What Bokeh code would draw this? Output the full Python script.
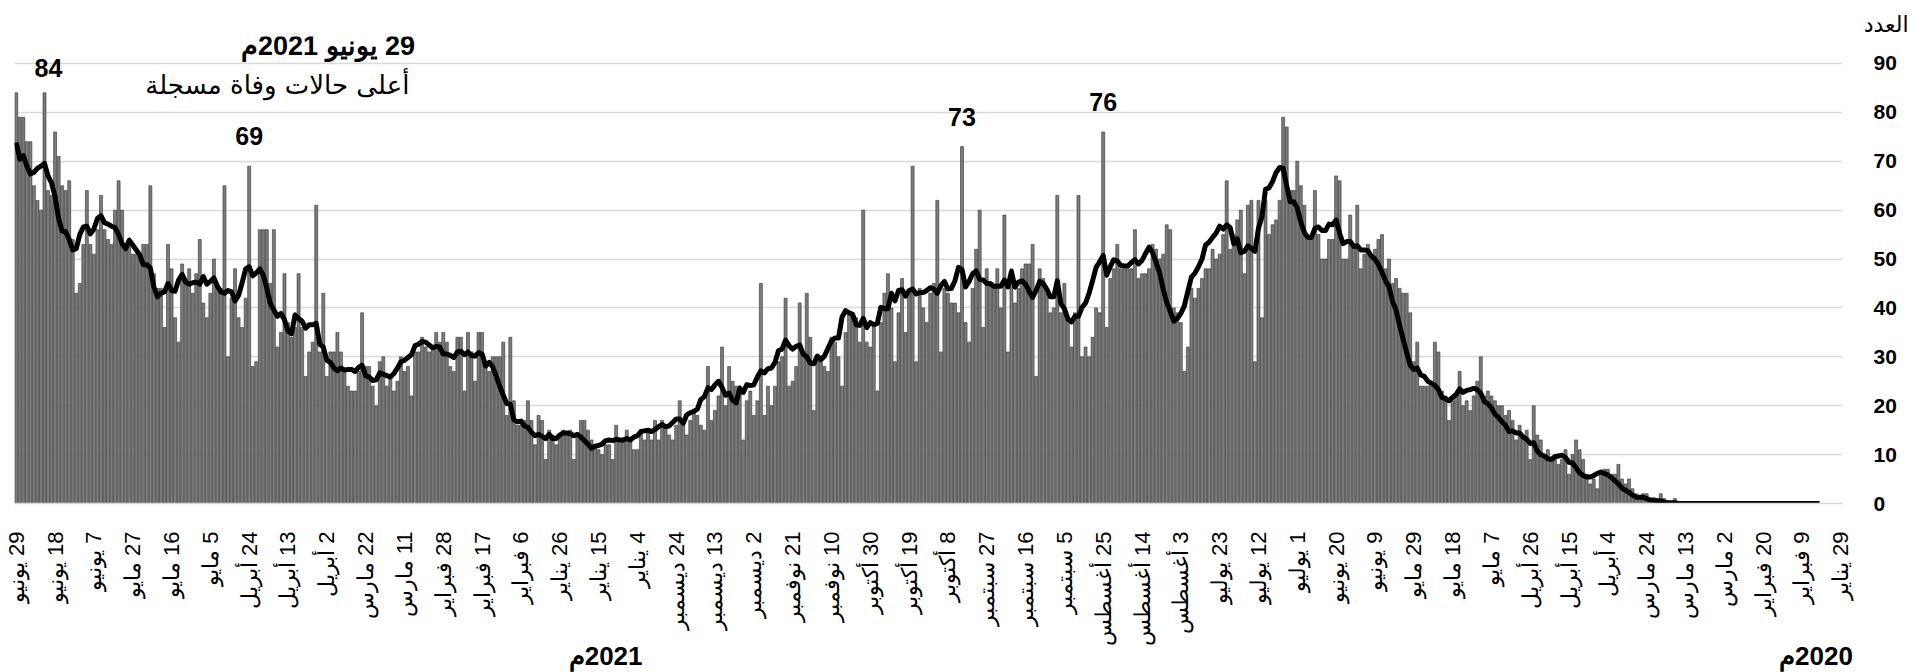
import math
from datetime import date, timedelta
from bokeh.plotting import figure
from bokeh.models import Range1d, FixedTicker, Label, ColumnDataSource, LinearAxis
from bokeh.embed import file_html
from bokeh.resources import INLINE

RLM = "\u200F"

# ---------------- data (daily deaths, chronological) ----------------
start_date = date(2020, 1, 29)
months_ar = ["يناير", "فبراير", "مارس", "أبريل", "مايو", "يونيو",
             "يوليو", "أغسطس", "سبتمبر", "أكتوبر", "نوفمبر", "ديسمبر"]

jan2020 = [0, 0, 0]
feb2020 = [0, 0, 0, 0, 0, 0, 0, 0, 0, 0, 0, 0, 0, 0, 0, 0, 0, 0, 0, 0,
           0, 0, 0, 0, 0, 0, 0, 0, 0]
mar2020 = [0, 0, 0, 0, 0, 0, 0, 0, 0, 0, 0, 0, 0, 0, 0, 1, 0, 0, 1, 2,
           0, 1, 1, 2, 2, 1, 2, 3, 5, 4, 5]
apr2020 = [8, 6, 6, 7, 7, 6, 3, 5, 4, 6, 9, 11, 13, 10, 6, 11, 9, 8, 10, 9,
           11, 10, 13, 14, 20, 9, 15, 14, 16, 13]
may2020 = [17, 19, 18, 20, 20, 21, 22, 23, 22, 30, 25, 22, 19, 21, 20, 27, 22, 21, 17, 22,
           23, 31, 33, 25, 24, 24, 24, 33, 29, 39, 43]
jun2020 = [43, 44, 46, 45, 50, 48, 55, 54, 52, 50, 53, 51, 48, 61, 53, 59, 50, 50, 66, 67,
           54, 54, 50, 50, 55, 64, 54, 54, 61, 65]
jul2020 = [70, 64, 64, 77, 79, 62, 58, 57, 55, 62, 38, 62, 29, 62, 61, 47, 60, 58, 55, 52,
           66, 55, 51, 50, 52, 48, 48, 46, 44, 42, 44]
aug2020 = [32, 27, 37, 39, 40, 56, 57, 51, 50, 52, 53, 48, 47, 47, 46, 56, 48, 48, 48, 48,
           53, 48, 46, 36, 76, 39, 40, 34, 30, 32, 30]
sep2020 = [63, 39, 32, 38, 45, 39, 63, 40, 39, 43, 46, 48, 26, 53, 49, 49, 48, 44, 41, 48,
           31, 59, 40, 48, 44, 45, 48, 36, 60, 52]
oct2020 = [44, 33, 37, 73, 39, 41, 41, 43, 44, 31, 62, 45, 43, 37, 40, 44, 29, 69, 43, 35,
           46, 39, 29, 40, 47, 43, 37, 23, 37, 32, 33]
nov2020 = [60, 33, 38, 38, 39, 35, 24, 30, 33, 34, 27, 28, 30, 29, 19, 34, 43, 31, 41, 28,
           25, 24, 42, 30, 29, 24, 20, 24, 18, 45]
dec2020 = [21, 18, 23, 21, 13, 24, 24, 25, 28, 20, 32, 22, 19, 17, 28, 15, 16, 18, 19, 17,
           14, 16, 21, 16, 13, 14, 16, 17, 13, 17, 13]
jan2021 = [15, 13, 15, 11, 11, 13, 15, 13, 13, 16, 9, 12, 12, 10, 11, 12, 13, 15, 17, 17,
           14, 9, 15, 14, 15, 14, 12, 14, 15, 9, 17]
feb2021 = [18, 12, 17, 21, 17, 16, 16, 21, 34, 18, 33, 30, 30, 30, 27, 29, 35, 35, 25, 31,
           35, 23, 34, 34, 27, 28, 33, 35]
mar2021 = [33, 35, 32, 31, 32, 34, 31, 31, 22, 28, 27, 30, 25, 23, 26, 24, 30, 29, 20, 24,
           28, 28, 39, 27, 23, 23, 24, 27, 31, 35, 31]
apr2021 = [31, 26, 43, 31, 61, 33, 31, 26, 36, 47, 36, 34, 37, 47, 35, 32, 56, 45, 56, 56,
           56, 29, 28, 69, 42, 36, 38, 48, 42, 30]
may2021 = [65, 44, 44, 50, 43, 38, 41, 54, 47, 43, 48, 46, 49, 33, 38, 48, 53, 36, 44, 44,
           47, 65, 53, 53, 50, 51, 51, 54, 53, 60, 66]
jun2021 = [60, 53, 54, 56, 63, 56, 51, 53, 64, 53, 45, 43, 54, 66, 64, 65, 71, 76, 63, 64,
           84, 60, 62, 65, 74, 74, 79, 79, 84]

y_ticks = [0, 10, 20, 30, 40, 50, 60, 70, 80, 90]
tick_step_days = 11
highlight_dates = [date(2021, 6, 21), date(2021, 4, 24), date(2020, 10, 4), date(2020, 8, 25)]
year_labels = {350: "2021م", 7: "2020م"}

deaths = (jan2020 + feb2020 + mar2020 + apr2020 + may2020 + jun2020 + jul2020 + aug2020
          + sep2020 + oct2020 + nov2020 + dec2020 + jan2021 + feb2021 + mar2021 + apr2021
          + may2021 + jun2021)
n = len(deaths)
idx = list(range(n))

# 7-day trailing moving average
ma_x = list(range(6, n))
ma_y = [sum(deaths[i - 6:i + 1]) / 7.0 for i in ma_x]

# tick labels every 11 days counted back from the last day
tick_idx = list(range(n - 1, -1, -tick_step_days))
tick_labels = {}
for t in tick_idx:
    d = start_date + timedelta(days=t)
    tick_labels[t] = RLM + f"{d.day} {months_ar[d.month - 1]}"

FONT = "Liberation Sans"
ARFONT = "DejaVu Sans"

p = figure(frame_width=1828, frame_height=467,
           x_range=Range1d(n - 0.5, -0.5), y_range=Range1d(0, 95.52),
           output_backend="svg", toolbar_location=None,
           y_axis_location="right", title="العدد",
           min_border_left=14, min_border_right=72,
           min_border_top=36, min_border_bottom=169)
p.outline_line_color = None
p.background_fill_color = "white"
p.border_fill_color = "white"

# axis title (top right)
p.title.align = "right"
p.title.text_font = ARFONT
p.title.text_font_style = "normal"
p.title.text_font_size = "22px"
p.title.text_color = "black"
p.title.standoff = 0
p.title.offset = -66

src = ColumnDataSource(dict(i=idx, v=deaths))
p.vbar(x="i", top="v", bottom=0, width=0.85, source=src,
       fill_color="#7b7b7b", line_color="#333333", line_width=0.6)
p.line(ma_x, ma_y, line_width=5, line_color="black", line_join="round")

# grid
p.xgrid.visible = False
p.ygrid.grid_line_color = "#d9d9d9"
p.ygrid.grid_line_width = 1.5
p.ygrid.ticker = FixedTicker(ticks=y_ticks)

# y axis (right)
ya = p.yaxis[0]
ya.ticker = FixedTicker(ticks=y_ticks)
ya.axis_line_color = None
ya.major_tick_line_color = None
ya.minor_tick_line_color = None
ya.major_label_text_font = FONT
ya.major_label_text_font_style = "bold"
ya.major_label_text_font_size = "21px"
ya.major_label_text_color = "black"
ya.major_label_standoff = 25

# x axis (dates)
xa = p.xaxis[0]
xa.ticker = FixedTicker(ticks=tick_idx)
xa.major_label_overrides = tick_labels
xa.major_label_orientation = math.pi / 2
xa.axis_line_color = "#d9d9d9"
xa.axis_line_width = 1.5
xa.major_tick_line_color = None
xa.minor_tick_line_color = None
xa.major_label_text_font = FONT
xa.major_label_text_font_size = "22px"
xa.major_label_text_color = "black"
xa.major_label_standoff = 22

# second x axis carrying the year labels
year_axis = LinearAxis(ticker=FixedTicker(ticks=list(year_labels.keys())),
                       major_label_overrides={k: RLM + v for k, v in year_labels.items()})
year_axis.axis_line_color = None
year_axis.major_tick_line_color = None
year_axis.minor_tick_line_color = None
year_axis.major_label_text_font = FONT
year_axis.major_label_text_font_style = "bold"
year_axis.major_label_text_font_size = "26px"
year_axis.major_label_text_color = "black"
year_axis.major_label_standoff = -15
p.add_layout(year_axis, "below")

# value labels on notable spikes
for d in highlight_dates:
    i = (d - start_date).days
    p.add_layout(Label(x=i, y=deaths[i], text=str(deaths[i]), text_font=FONT,
                       text_font_style="bold", text_font_size="25px",
                       text_align="center", text_baseline="bottom",
                       x_offset=4 if deaths[i] >= 80 else 0,
                       y_offset=16 if deaths[i] >= 80 else 21, text_color="black"))

peak_day = date(2021, 6, 29)
p.add_layout(Label(x=404, y=93.5,
                   text=RLM + f"{peak_day.day} {months_ar[peak_day.month - 1]} {peak_day.year}م",
                   text_font=FONT, text_font_style="bold", text_font_size="27px",
                   text_align="right", text_baseline="middle", text_color="black"))
p.add_layout(Label(x=405.6, y=85.5, text="أعلى حالات وفاة مسجلة",
                   text_font=ARFONT, text_font_size="26px",
                   text_align="right", text_baseline="middle", text_color="black"))

open("out.html", "w").write(file_html(p, INLINE))
